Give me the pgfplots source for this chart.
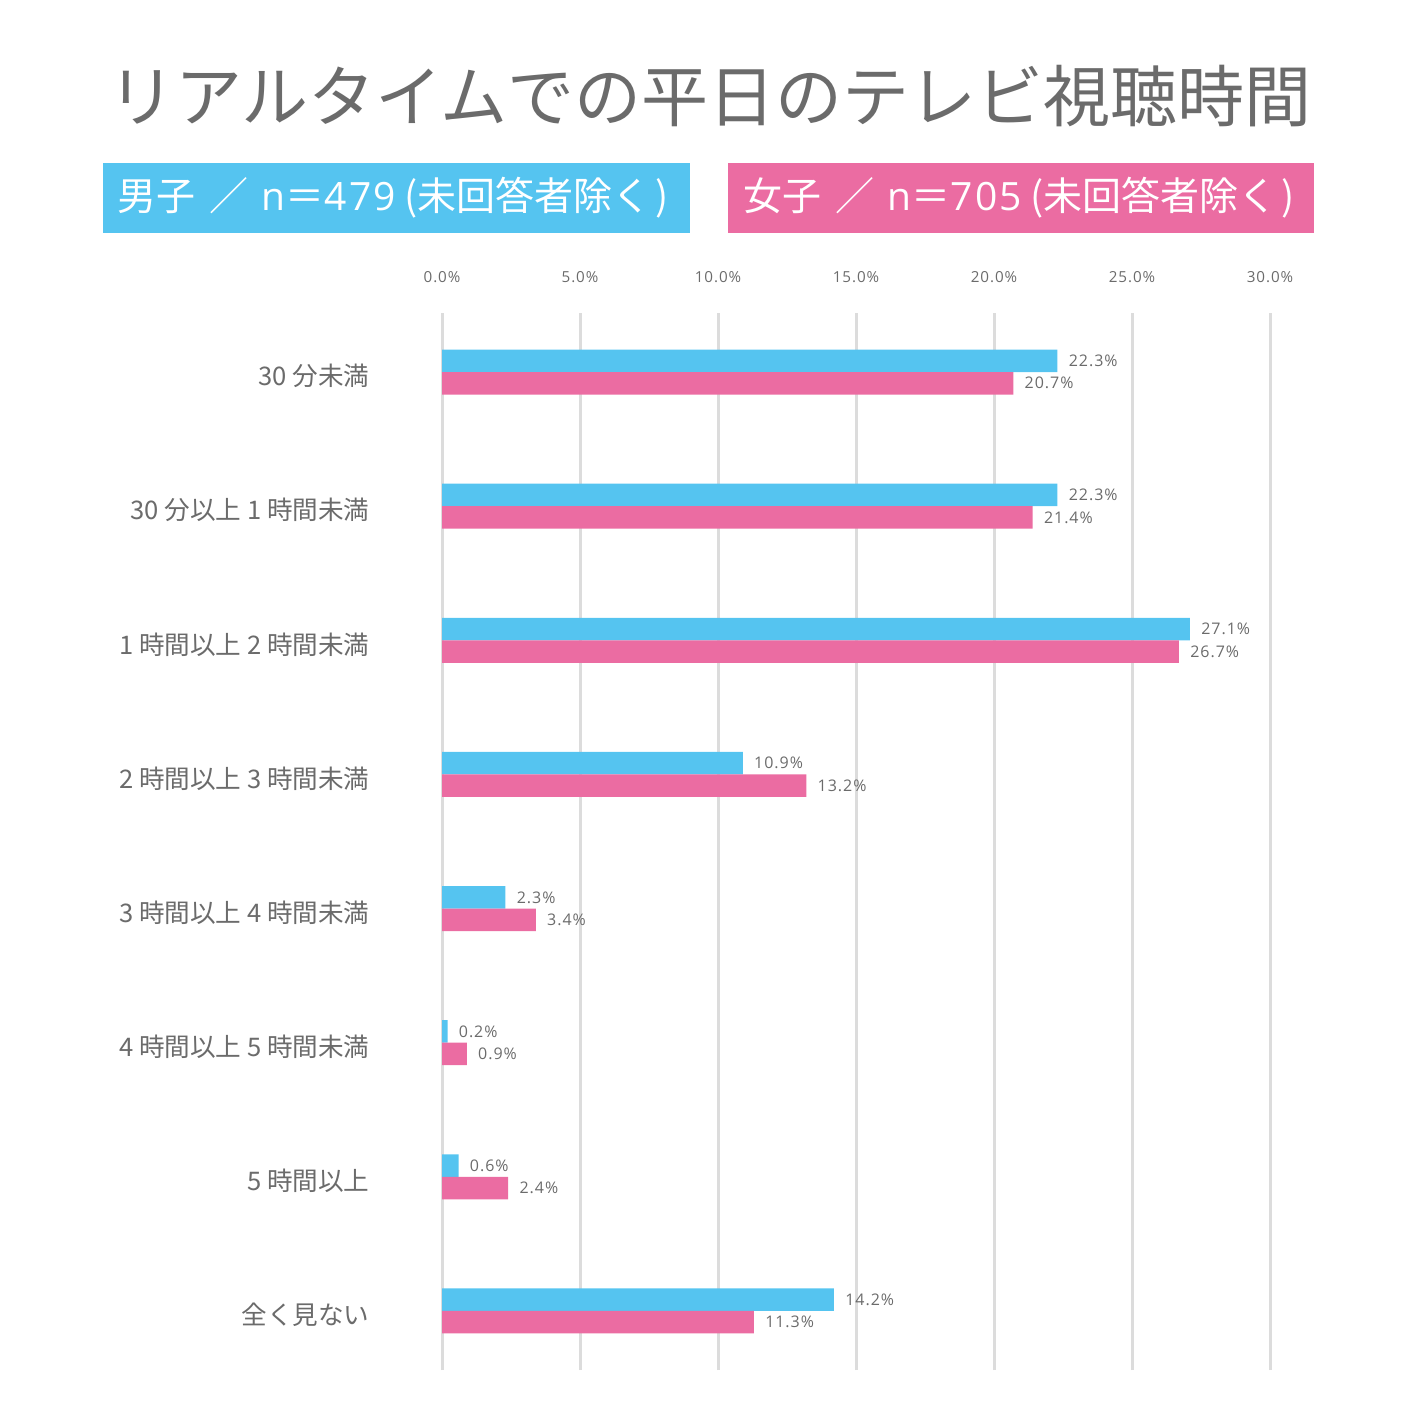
\documentclass[border=0pt]{standalone}
\usepackage{fontspec}
\setmainfont{Noto Sans CJK JP}
\newfontfamily\opensans{Open Sans}
\newfontfamily\numfont[LetterSpace=6]{Open Sans}
\usepackage{pgfplots}
\pgfplotsset{compat=1.18}
\definecolor{boyblue}{HTML}{55C4F0}
\definecolor{girlpink}{HTML}{EB6CA2}
\definecolor{txtgray}{HTML}{6B6B6B}
\definecolor{gridgray}{HTML}{DCDCDC}
\newcommand{\legtext}[2]{#1\hspace{0.35em}／\hspace{0.35em}{\opensans n}＝{\numfont #2}\hspace{0.2em}(未回答者除く\hspace{0.1em})}
\begin{document}
\begin{tikzpicture}
\path[use as bounding box] (0,0) rectangle (708.5pt,-714pt);
% title and legend boxes
\node[text=txtgray, font=\fontsize{33.5}{33.5}\selectfont] at (355pt,-48pt) {リアルタイムでの平日のテレビ視聴時間};
\fill[boyblue] (51.5pt,-81.5pt) rectangle (345pt,-116.5pt);
\node[anchor=west, text=white, inner sep=0pt, font=\fontsize{19.5}{19.5}\selectfont] at (58.5pt,-99pt) {\legtext{男子}{479}};
\fill[girlpink] (364pt,-81.5pt) rectangle (657pt,-116.5pt);
\node[anchor=west, text=white, inner sep=0pt, font=\fontsize{19.5}{19.5}\selectfont] at (371.5pt,-99pt) {\legtext{女子}{705}};
\begin{axis}[
  at={(221pt,-685pt)}, anchor=south west,
  scale only axis, width=414pt, height=528.5pt,
  xmin=0, xmax=30, ymin=-0.44, ymax=7.44,
  xbar, bar width=11.25pt,
  axis line style={draw=none}, major tick length=0pt,
  xmajorgrids, grid style={line width=1.5pt, gridgray},
  xtick={0,5,...,30},
  xticklabels={0.0\%,5.0\%,10.0\%,15.0\%,20.0\%,25.0\%,30.0\%},
  xticklabel pos=top,
  xticklabel style={anchor=center, inner sep=0pt, yshift=18pt, font=\numfont\fontsize{7.6}{7.6}\selectfont, text=txtgray},
  ytick={0,...,7},
  yticklabels={全く見ない, 5 時間以上, 4 時間以上 5 時間未満, 3 時間以上 4 時間未満, 2 時間以上 3 時間未満, 1 時間以上 2 時間未満, 30 分以上 1 時間未満, 30 分未満},
  yticklabel style={anchor=east, inner sep=0pt, xshift=-36pt, yshift=-2pt, font=\fontsize{12.8}{12.8}\selectfont, text=txtgray},
  /pgf/number format/assume math mode=true,
  point meta=x,
  nodes near coords={\pgfmathprintnumber[fixed,fixed zerofill,precision=1]{\pgfplotspointmeta}\%},
  nodes near coords style={anchor=west, inner sep=0pt, xshift=5.5pt, font=\numfont\fontsize{8}{8}\selectfont, text=txtgray},
]
\addplot[fill=boyblue, draw=none, bar shift=5.625pt] coordinates {
  (14.2,0) (0.6,1) (0.2,2) (2.3,3) (10.9,4) (27.1,5) (22.3,6) (22.3,7)
};
\addplot[fill=girlpink, draw=none, bar shift=-5.625pt] coordinates {
  (11.3,0) (2.4,1) (0.9,2) (3.4,3) (13.2,4) (26.7,5) (21.4,6) (20.7,7)
};
\end{axis}
\end{tikzpicture}
\end{document}
